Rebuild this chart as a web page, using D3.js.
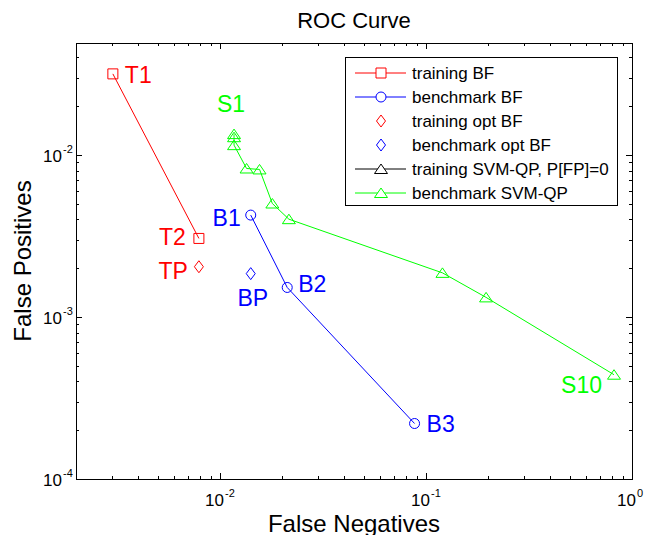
<!DOCTYPE html>
<html>
<head>
<meta charset="utf-8">
<script src="https://cdn.jsdelivr.net/npm/d3@7"></script>
<style>
  html, body { margin: 0; padding: 0; background: #fff; }
  svg { display: block; }
  text { font-family: "Liberation Sans", Arial, Helvetica, sans-serif; }
</style>
</head>
<body>
<svg id="chart" width="654" height="535"></svg>
<script>
// ---------------- data ----------------
const xDomain = [0.002, 1];
const yDomain = [1e-4, 0.049];

const xMajorTicks = [0.01, 0.1, 1];
const xMajorExp = ["-2", "-1", "0"];
const yMajorTicks = [1e-4, 1e-3, 1e-2];
const yMajorExp = ["-4", "-3", "-2"];

// training BF
const trainBF_FN = [0.00302, 0.0079];
const trainBF_FP = [0.0316, 0.00305];
// benchmark BF
const benchBF_FN = [0.0141, 0.0212, 0.088];
const benchBF_FP = [0.00425, 0.00152, 0.00022];
// training opt BF
const trainOpt_FN = [0.0079];
const trainOpt_FP = [0.00204];
// benchmark opt BF
const benchOpt_FN = [0.0141];
const benchOpt_FP = [0.00185];
// training SVM-QP, P[FP]=0 (cannot be drawn on a log axis)
const trainSVM_FN = [];
const trainSVM_FP = [];
// benchmark SVM-QP (S1 ... S10)
const benchSVM_FN = [0.0117, 0.0117, 0.0117, 0.01346, 0.01556, 0.01795, 0.0216, 0.1202, 0.1957, 0.818];
const benchSVM_FP = [0.01343, 0.01285, 0.01148, 0.00824, 0.00813, 0.00501, 0.00401, 0.00187, 0.00132, 0.00044];

const legendLabels = ["training BF", "benchmark BF", "training opt BF", "benchmark opt BF",
                      "training SVM-QP, P[FP]=0", "benchmark SVM-QP"];

// point annotations: label, series key, point index
const annotations = [
  {text: "T1", series: "trainBF", i: 0},
  {text: "T2", series: "trainBF", i: 1},
  {text: "TP", series: "trainOpt", i: 0},
  {text: "B1", series: "benchBF", i: 0},
  {text: "B2", series: "benchBF", i: 1},
  {text: "B3", series: "benchBF", i: 2},
  {text: "BP", series: "benchOpt", i: 0},
  {text: "S1", series: "benchSVM", i: 0},
  {text: "S10", series: "benchSVM", i: 9}
];
// label placement (pixel offsets from point)
const annotStyle = {
  T1: {dx: 12, dy: 9, anchor: "start"},
  T2: {dx: -13, dy: 7, anchor: "end"},
  TP: {dx: -11, dy: 12, anchor: "end"},
  B1: {dx: -10, dy: 11, anchor: "end"},
  B2: {dx: 11, dy: 5, anchor: "start"},
  B3: {dx: 12, dy: 8, anchor: "start"},
  BP: {dx: 2, dy: 32, anchor: "middle"},
  S1: {dx: -3, dy: -22, anchor: "middle"},
  S10: {dx: -12, dy: 18, anchor: "end"}
};

// ---------------- chart ----------------
const svg = d3.select("#chart");
const L = 76, R = 632, T = 43, B = 479;
const x = d3.scaleLog().domain(xDomain).range([L, R]);
const y = d3.scaleLog().domain(yDomain).range([B, T]);

const RED = "#ff0000", BLUE = "#0000ff", GREEN = "#00ff00", BLACK = "#000000";

const series = {
  trainBF: {fn: trainBF_FN, fp: trainBF_FP, color: RED, marker: "square", line: true},
  benchBF: {fn: benchBF_FN, fp: benchBF_FP, color: BLUE, marker: "circle", line: true},
  trainOpt: {fn: trainOpt_FN, fp: trainOpt_FP, color: RED, marker: "diamond", line: false},
  benchOpt: {fn: benchOpt_FN, fp: benchOpt_FP, color: BLUE, marker: "diamond", line: false},
  trainSVM: {fn: trainSVM_FN, fp: trainSVM_FP, color: BLACK, marker: "triangle", line: true},
  benchSVM: {fn: benchSVM_FN, fp: benchSVM_FP, color: GREEN, marker: "triangle", line: true}
};
const order = ["trainBF", "benchBF", "trainOpt", "benchOpt", "trainSVM", "benchSVM"];

function markerPath(type) {
  switch (type) {
    case "square": return "M-5,-5H5V5H-5Z";
    case "circle": return "M5,0A5,5 0 1,1 -5,0A5,5 0 1,1 5,0Z";
    case "diamond": return "M0,-6L4.5,0L0,6L-4.5,0Z";
    case "triangle": return "M0,-5L6.5,4.5L-6.5,4.5Z";
  }
}

// axes box and ticks
const axG = svg.append("g").attr("shape-rendering", "crispEdges");

function minorTicks(domain) {
  const out = [];
  const lo = Math.floor(Math.log10(domain[0])), hi = Math.ceil(Math.log10(domain[1]));
  for (let e = lo; e <= hi; e++) {
    for (let m = 2; m <= 9; m++) {
      const v = m * Math.pow(10, e);
      if (v > domain[0] * 1.0001 && v < domain[1] * 0.9999) out.push(v);
    }
  }
  return out;
}
const xMinor = minorTicks(xDomain), yMinor = minorTicks(yDomain);

function drawAxis(axisFn, scale, pos, majors, minors, inward) {
  const gMaj = axG.append("g").attr("transform", pos)
    .call(axisFn(scale).tickValues(majors).tickSize(inward * 6).tickFormat(""));
  const gMin = axG.append("g").attr("transform", pos)
    .call(axisFn(scale).tickValues(minors).tickSize(inward * 3).tickFormat(""));
  [gMaj, gMin].forEach(g => {
    g.select(".domain").remove();
    g.selectAll("line").attr("stroke", BLACK);
  });
}
drawAxis(d3.axisBottom, x, `translate(0,${B})`, xMajorTicks, xMinor, -1);
drawAxis(d3.axisTop, x, `translate(0,${T})`, xMajorTicks, xMinor, -1);
drawAxis(d3.axisLeft, y, `translate(${L},0)`, yMajorTicks, yMinor, -1);
drawAxis(d3.axisRight, y, `translate(${R},0)`, yMajorTicks, yMinor, -1);

axG.append("rect").attr("x", L).attr("y", T).attr("width", R - L).attr("height", B - T)
  .attr("fill", "none").attr("stroke", BLACK).attr("stroke-width", 1);

// tick labels with superscripts
const tickFont = 17, supFont = 11;
xMajorTicks.forEach((v, k) => {
  const px = x(v);
  const t = svg.append("text").attr("y", 506).attr("font-size", tickFont).attr("fill", BLACK);
  t.append("tspan").attr("x", px + 4).attr("text-anchor", "end").text("10");
  svg.append("text").attr("x", px + 5).attr("y", 497).attr("font-size", supFont)
    .attr("fill", BLACK).text(xMajorExp[k]);
});
yMajorTicks.forEach((v, k) => {
  const py = y(v);
  svg.append("text").attr("x", 62).attr("y", py + 7).attr("font-size", tickFont)
    .attr("text-anchor", "end").attr("fill", BLACK).text("10");
  svg.append("text").attr("x", 63).attr("y", py - 2).attr("font-size", supFont)
    .attr("fill", BLACK).text(yMajorExp[k]);
});

// titles
svg.append("text").attr("x", (L + R) / 2).attr("y", 28).attr("text-anchor", "middle")
  .attr("font-size", 22).attr("fill", BLACK).text("ROC Curve");
svg.append("text").attr("x", (L + R) / 2).attr("y", 532).attr("text-anchor", "middle")
  .attr("font-size", 24).attr("fill", BLACK).text("False Negatives");
svg.append("text").attr("transform", `translate(31,${(T + B) / 2}) rotate(-90)`)
  .attr("text-anchor", "middle").attr("font-size", 24).attr("fill", BLACK).text("False Positives");

// data
const plotG = svg.append("g");
const lineGen = d3.line().x(d => x(d[0])).y(d => y(d[1]));
order.forEach(key => {
  const s = series[key];
  const pts = s.fn.map((v, i) => [v, s.fp[i]]);
  if (s.line && pts.length > 1) {
    plotG.append("path").datum(pts).attr("d", lineGen)
      .attr("fill", "none").attr("stroke", s.color).attr("stroke-width", 1);
  }
  plotG.selectAll(null).data(pts).enter().append("path")
    .attr("transform", d => `translate(${x(d[0])},${y(d[1])})`)
    .attr("d", markerPath(s.marker))
    .attr("fill", "none").attr("stroke", s.color).attr("stroke-width", 1);
});

// annotations
annotations.forEach(a => {
  const s = series[a.series];
  const st = annotStyle[a.text];
  svg.append("text")
    .attr("x", x(s.fn[a.i]) + st.dx).attr("y", y(s.fp[a.i]) + st.dy)
    .attr("text-anchor", st.anchor).attr("font-size", 23).attr("fill", s.color)
    .text(a.text);
});

// legend
const lg = svg.append("g");
const lgL = 345, lgT = 57, lgR = 617, lgB = 205;
lg.append("rect").attr("x", lgL).attr("y", lgT).attr("width", lgR - lgL).attr("height", lgB - lgT)
  .attr("fill", "#fff").attr("stroke", BLACK).attr("stroke-width", 1).attr("shape-rendering", "crispEdges");
order.forEach((key, k) => {
  const s = series[key];
  const cy = 73 + k * 24;
  if (s.line) {
    lg.append("line").attr("x1", 355).attr("x2", 406).attr("y1", cy).attr("y2", cy)
      .attr("stroke", s.color).attr("stroke-width", 1);
  }
  lg.append("path").attr("transform", `translate(381,${cy})`).attr("d", markerPath(s.marker))
    .attr("fill", s.line ? "#fff" : "none").attr("stroke", s.color).attr("stroke-width", 1);
  lg.append("text").attr("x", 412).attr("y", cy + 6).attr("font-size", 17).attr("fill", BLACK)
    .text(legendLabels[k]);
});
</script>
</body>
</html>
